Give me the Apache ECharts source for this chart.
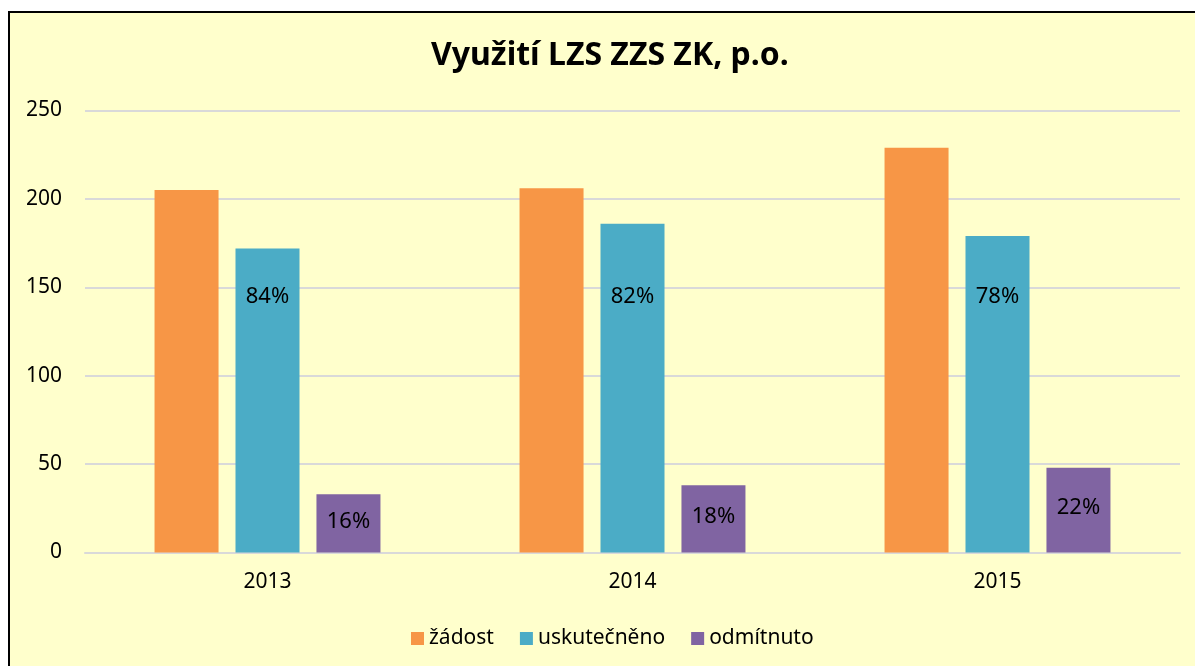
<!DOCTYPE html>
<html>
<head>
<meta charset="utf-8">
<script src="https://cdn.jsdelivr.net/npm/echarts@6/dist/echarts.min.js"></script>
<style>
    html, body { margin: 0; padding: 0; background: #fff; overflow: hidden; }
    #divChart {
        position: absolute;
        left: 8px;
        top: 11px;
        width: 1187px;
        height: 655px;
        border-left: 2px solid #000;
        border-top: 2px solid #000;
        background: #FFFFCC;
    }
</style>
</head>
<body>
<div id="divChart"></div>
<script>
    // data
    var years = ['2013', '2014', '2015'];
    var zadost = [205, 206, 229];
    var uskutecneno = [172, 186, 179];
    var odmitnuto = [33, 38, 48];
    var pctUsk = ['84%', '82%', '78%'];
    var pctOdm = ['16%', '18%', '22%'];
    var yTicks = [0, 50, 100, 150, 200, 250];

    var fontName = '"Noto Sans", sans-serif';
    // label distance from bar top (uskutecneno labels sit at same height)
    var uskDist = [37, 62, 50];

    var myChart = echarts.init(document.getElementById('divChart'));

    var option = {
        backgroundColor: '#FFFFCC',
        animation: false,
        textStyle: { fontFamily: fontName },
        title: {
            text: 'Využití LZS ZZS ZK, p.o.',
            left: 416,
            top: 22,
            textStyle: { fontFamily: fontName, fontSize: 32, fontWeight: 'bold', color: '#000' }
        },
        legend: {
            bottom: 14,
            left: 396,
            itemWidth: 13,
            itemHeight: 13,
            itemGap: 26,
            icon: 'rect',
            textStyle: { fontFamily: fontName, fontSize: 21, color: '#000' },
            data: ['žádost', 'uskutečněno', 'odmítnuto']
        },
        grid: {
            left: 75,
            right: 17,
            top: 97.5,
            bottom: 115.5
        },
        xAxis: {
            type: 'category',
            data: years,
            axisLine: { show: true, lineStyle: { color: '#D9D9D9', width: 2 } },
            axisTick: { show: false },
            axisLabel: { fontFamily: fontName, fontSize: 21, color: '#000', margin: 19 }
        },
        yAxis: {
            type: 'value',
            min: yTicks[0],
            max: yTicks[yTicks.length - 1],
            interval: 50,
            axisLine: { show: false },
            axisTick: { show: false },
            axisLabel: { fontFamily: fontName, fontSize: 21, color: '#000', margin: 23 },
            splitLine: { lineStyle: { color: '#D9D9D9', width: 2 } }
        },
        series: [
            {
                name: 'žádost',
                type: 'bar',
                barWidth: 64,
                barGap: '26.5%',
                itemStyle: { color: '#F79646' },
                data: zadost
            },
            {
                name: 'uskutečněno',
                type: 'bar',
                barWidth: 64,
                barGap: '26.5%',
                itemStyle: { color: '#4BACC6' },
                data: uskutecneno.map(function (v, i) {
                    return {
                        value: v,
                        label: {
                            show: true,
                            position: 'insideTop',
                            distance: uskDist[i],
                            formatter: pctUsk[i],
                            fontFamily: fontName,
                            fontSize: 22,
                            color: '#000'
                        }
                    };
                })
            },
            {
                name: 'odmítnuto',
                type: 'bar',
                barWidth: 64,
                barGap: '26.5%',
                itemStyle: { color: '#8064A2' },
                data: odmitnuto.map(function (v, i) {
                    return {
                        value: v,
                        label: {
                            show: true,
                            position: 'inside',
                            offset: [0, -2],
                            formatter: pctOdm[i],
                            fontFamily: fontName,
                            fontSize: 22,
                            color: '#000'
                        }
                    };
                })
            }
        ]
    };
    myChart.setOption(option);
</script>
</body>
</html>
